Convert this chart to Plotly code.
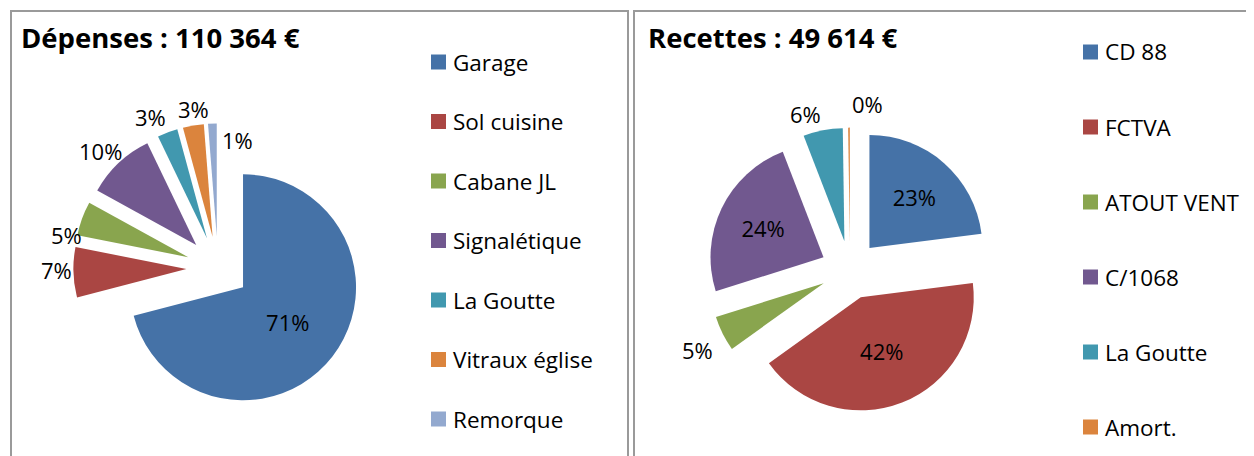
import math
import plotly.graph_objects as go

W, H = 1254, 456          # browser window
OFF = 8                   # default page margin around the plot div
FW, FH = W - OFF, H - OFF # figure size so nothing overflows

# ---- data ----
dep_title = "Dépenses : 110 364 €"
dep_labels = ["Garage", "Sol cuisine", "Cabane JL", "Signalétique", "La Goutte", "Vitraux église", "Remorque"]
dep_values = [78300, 7900, 5400, 10900, 3200, 3300, 1364]

rec_title = "Recettes : 49 614 €"
rec_labels = ["CD 88", "FCTVA", "ATOUT VENT", "C/1068", "La Goutte", "Amort."]
rec_values = [11400, 20900, 2500, 11900, 2800, 114]

# ---- style ----
palette = ["#4572A7", "#AA4643", "#89A54E", "#71588F", "#4198AF", "#DB843D", "#93A9CF"]
dep_textpos = ["inside", "outside", "outside", "outside", "outside", "outside", "outside"]
rec_textpos = ["inside", "inside", "outside", "inside", "outside", "outside"]
# small "best fit" shifts (px) of outside labels away from the radial position
dep_nudge = [(0, 0), (0, -3), (0, 22), (-6, 0), (-11, 0), (3, 0), (26, 34)]
rec_nudge = [(0, 0), (0, 0), (-10, 9), (0, 0), (-14, 0), (19, -7)]

FONT = "Open Sans"
FS = 22
LFS = 22.5


def px(x):
    return (x - OFF) / FW


def py(y):
    return 1 - (y - OFF) / FH


def domain(cx, cy, r, pull):
    half = r * (1 + pull)
    return dict(x=[px(cx - half), px(cx + half)], y=[py(cy + half), py(cy - half)])


def outside_labels(values, textpos, nudge, cx, cy, r, pull):
    """Percent labels for slices drawn outside, placed from each slice's mid angle."""
    total = float(sum(values))
    rho = r * (1 + pull) + 17
    anns = []
    cum = 0.0
    for v, tp, (dx, dy) in zip(values, textpos, nudge):
        frac = v / total
        mid = (cum + frac / 2) * 2 * math.pi
        cum += frac
        if tp != "outside":
            continue
        x = cx + rho * math.sin(mid) + dx
        y = cy - rho * math.cos(mid) + dy
        anns.append(dict(text="%d%%" % round(frac * 100), x=px(x), y=py(y), xref="paper", yref="paper",
                         xanchor="center", yanchor="middle", showarrow=False,
                         font=dict(family=FONT, size=FS, color="black")))
    return anns


fig = go.Figure()
shapes = []
annotations = []

R = 113
pies = [
    (dep_labels, dep_values, dep_textpos, dep_nudge, 218, 268, 0.28),
    (rec_labels, rec_values, rec_textpos, rec_nudge, 850, 270, 0.26),
]
for labels, values, tpos, nudge, cx, cy, pull in pies:
    fig.add_trace(go.Pie(
        labels=labels, values=values, sort=False, direction="clockwise", rotation=0,
        marker=dict(colors=palette[:len(labels)], line=dict(width=0)),
        pull=[pull] * len(labels),
        texttemplate=["%{percent:.0%}" if t == "inside" else "" for t in tpos],
        textposition=["inside" if t == "inside" else "none" for t in tpos],
        insidetextorientation="horizontal",
        textfont=dict(family=FONT, size=FS, color="black"),
        insidetextfont=dict(family=FONT, size=FS, color="black"),
        domain=domain(cx, cy, R, pull),
        automargin=False,
        showlegend=False, hoverinfo="label+value+percent",
    ))
    annotations += outside_labels(values, tpos, nudge, cx, cy, R, pull)

# panel frames
frame = dict(color="#9A9A9A", width=2)
shapes.append(dict(type="rect", xref="paper", yref="paper", x0=px(11), x1=px(628), y0=py(470), y1=py(11), line=frame))
shapes.append(dict(type="rect", xref="paper", yref="paper", x0=px(634), x1=px(1270), y0=py(470), y1=py(11), line=frame))

# titles
for text, x in [(dep_title, 19), (rec_title, 646)]:
    annotations.append(dict(text="<b>%s</b>" % text, x=px(x), y=py(37), xref="paper", yref="paper",
                            xanchor="left", yanchor="middle", showarrow=False,
                            font=dict(family=FONT, size=27.5, color="black")))

# legends
legends = [
    (dep_labels, 431, 62, 59.5),
    (rec_labels, 1083, 52, 75.0),
]
for labels, mx, y0, step in legends:
    for i, lab in enumerate(labels):
        yc = y0 + i * step
        shapes.append(dict(type="rect", xref="paper", yref="paper",
                           x0=px(mx), x1=px(mx + 15), y0=py(yc + 7.5), y1=py(yc - 7.5),
                           fillcolor=palette[i], line=dict(width=0)))
        annotations.append(dict(text=lab, x=px(mx + 20), y=py(yc), xref="paper", yref="paper",
                                xanchor="left", yanchor="middle", showarrow=False,
                                font=dict(family=FONT, size=LFS, color="black")))

fig.update_layout(
    width=FW, height=FH, autosize=False,
    margin=dict(l=0, r=0, t=0, b=0, pad=0, autoexpand=False),
    paper_bgcolor="white", plot_bgcolor="white",
    showlegend=False,
    shapes=shapes, annotations=annotations,
    font=dict(family=FONT, size=FS, color="black"),
)

fig.write_html("out.html", config={"displayModeBar": False})
